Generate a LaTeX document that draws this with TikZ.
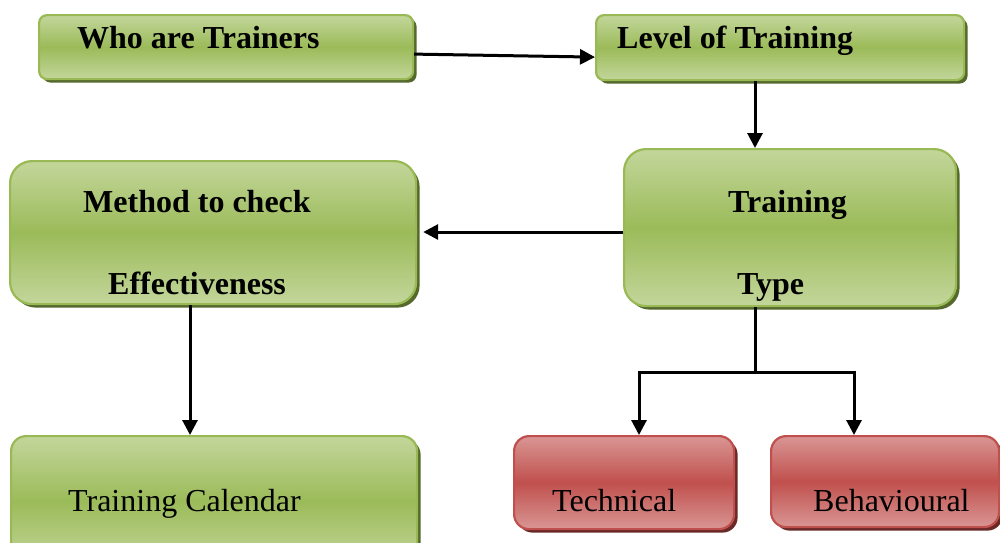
\documentclass[tikz,border=0pt]{standalone}
\usepackage{fontspec}
\setmainfont{Liberation Serif}
\usetikzlibrary{arrows.meta,shadows}
\definecolor{gLight}{HTML}{C3D69B}
\definecolor{gMid}{HTML}{9BBB59}
\definecolor{gEdge}{HTML}{98B954}
\definecolor{gShadow}{HTML}{55692C}
\definecolor{rLight}{HTML}{D99694}
\definecolor{rMid}{HTML}{C0504D}
\definecolor{rEdge}{HTML}{C0504D}
\definecolor{rShadow}{HTML}{6A2927}
\begin{document}
\begin{tikzpicture}[x=1pt,y=-1pt,
  box/.style={rectangle, anchor=north west, inner sep=0pt, line width=2.2pt},
  gbox/.style={box, draw=gEdge, top color=gLight, bottom color=gLight, middle color=gMid,
    drop shadow={shadow xshift=3.5pt, shadow yshift=-3.5pt, fill=gShadow, opacity=1}},
  rbox/.style={box, draw=rEdge, top color=rLight, bottom color=rLight, middle color=rMid,
    drop shadow={shadow xshift=3.5pt, shadow yshift=-3.5pt, fill=rShadow, opacity=1}},
  lbl/.style={anchor=base west, inner sep=0pt, font=\fontsize{32}{38}\selectfont},
  blbl/.style={anchor=base west, inner sep=0pt, font=\fontsize{32}{38}\selectfont\bfseries},
  arr/.style={line width=3pt, -{Triangle[length=15pt,width=15pt]}},
  ln/.style={line width=3pt}]
\useasboundingbox (0,0) rectangle (1000,542);
\clip (0,0) rectangle (1000,542);

% boxes
\node[gbox, rounded corners=8pt, minimum width=374pt, minimum height=64pt] (who) at (38,14) {};
\node[gbox, rounded corners=8pt, minimum width=368pt, minimum height=65pt] (level) at (595,14) {};
\node[gbox, rounded corners=22pt, minimum width=332pt, minimum height=157pt] (type) at (623,148) {};
\node[gbox, rounded corners=22pt, minimum width=406pt, minimum height=143pt] (method) at (9,160) {};
\node[gbox, rounded corners=15pt, minimum width=406pt, minimum height=130pt] (cal) at (10,435) {};
\node[rbox, rounded corners=15pt, minimum width=220pt, minimum height=93pt] (tech) at (513,435) {};
\node[rbox, rounded corners=15pt, minimum width=228pt, minimum height=91pt] (beh) at (770,435) {};

% texts
\node[blbl] (twho) at (77,48) {Who are Trainers};
\node[blbl] (tlevel) at (617,48) {Level of Training};
\node[blbl] (ttype1) at (728,212) {Training};
\node[blbl] (ttype2) at (737,294) {Type};
\node[blbl] (tmeth1) at (83,212) {Method to check};
\node[blbl] (tmeth2) at (108,294) {Effectiveness};
\node[lbl] (tcal) at (68,511) {Training Calendar};
\node[lbl] (ttech) at (552,511) {Technical};
\node[lbl] (tbeh) at (813,511) {Behavioural};

% guide coordinates
\coordinate (vx) at (755,0);
\coordinate (hy) at (0,232);
\coordinate (mx) at (190,0);
\coordinate (split) at (755,372);
\coordinate (lx) at (639,0);
\coordinate (rx) at (854,0);

% connectors
\draw[arr] ([yshift=-7pt]who.east) -- ([yshift=-9.5pt]level.west);
\draw[arr] (level.south -| vx) -- (type.north -| vx);
\draw[arr, shorten >=6pt] (type.west |- hy) -- (method.east |- hy);
\draw[arr] (method.south -| mx) -- (cal.north -| mx);
\draw[ln] (type.south -| vx) -- (split);
\draw[arr] (split) -| (tech.north -| lx);
\draw[arr] (split) -| (beh.north -| rx);
\end{tikzpicture}
\end{document}
